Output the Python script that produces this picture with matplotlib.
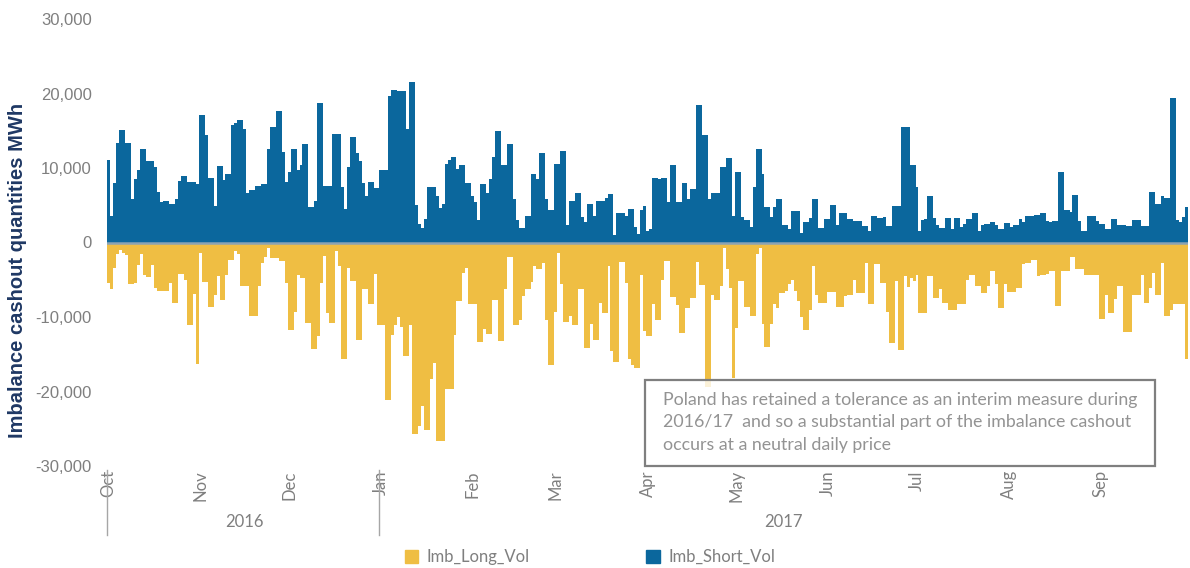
import numpy as np
import pandas as pd
import matplotlib
matplotlib.use('Agg')
import matplotlib.pyplot as plt
import matplotlib.dates as mdates
from matplotlib.patches import Rectangle, Patch
from matplotlib.ticker import FuncFormatter
from matplotlib.transforms import blended_transform_factory

# daily imbalance cashout volumes, thousand MWh (Oct 2016 - Sep 2017)
short_oct = [11.1, 3.5, 8.0, 13.3, 15.1, 15.1, 13.3, 13.3, 5.8, 8.5, 9.7, 12.6, 12.6, 11.0, 11.0, 11.0,
             10.2, 6.8, 5.4, 5.6, 5.6, 5.2, 5.2, 5.9, 8.3, 8.9, 8.9, 8.1, 8.1, 8.1, 7.8]
short_nov = [17.1, 17.1, 14.4, 8.7, 8.7, 4.9, 10.3, 10.3, 8.4, 9.2, 9.2, 15.8, 16.1, 16.5, 16.5, 15.3,
             6.7, 7.0, 7.0, 7.6, 7.6, 7.8, 7.8, 12.6, 15.5, 15.5, 17.7, 17.7, 12.2, 8.1]
short_dec = [9.4, 12.6, 12.6, 9.7, 10.4, 13.2, 13.2, 4.7, 4.7, 5.6, 18.7, 18.7, 7.6, 7.6, 7.6, 14.6,
             14.6, 14.6, 7.5, 4.5, 10.1, 14.1, 14.1, 12.0, 10.9, 8.0, 6.3, 8.1, 8.1, 7.3, 7.3]
short_jan = [9.7, 9.7, 9.7, 19.6, 20.5, 20.5, 20.4, 20.4, 20.4, 15.3, 21.6, 21.6, 5.0, 2.5, 1.9, 3.2,
             7.5, 7.5, 7.5, 6.3, 4.6, 5.2, 10.5, 11.1, 11.5, 11.5, 9.9, 10.4, 10.4, 8.0, 8.0]
short_feb = [6.3, 5.5, 3.0, 7.8, 7.8, 6.6, 8.5, 11.5, 14.9, 14.9, 10.4, 10.4, 13.2, 13.2, 5.9, 3.0,
             1.9, 1.9, 3.6, 3.6, 9.2, 9.2, 8.5, 12.0, 12.0, 5.8, 4.3, 4.3]
short_mar = [10.5, 10.5, 12.3, 12.3, 2.3, 5.6, 5.6, 6.7, 6.7, 3.4, 2.7, 5.2, 5.2, 3.6, 5.6, 5.6,
             5.6, 6.0, 6.5, 6.5, 1.0, 4.0, 4.0, 4.0, 3.6, 4.5, 4.5, 2.1, 1.2, 4.3, 4.9]
short_apr = [1.6, 1.8, 8.7, 8.7, 8.5, 8.7, 8.7, 5.4, 10.4, 10.4, 5.4, 5.4, 8.0, 8.0, 5.9, 7.2,
             7.2, 18.4, 18.4, 14.4, 14.4, 5.9, 6.7, 6.7, 6.7, 10.1, 10.1, 11.3, 11.3, 3.6]
short_may = [9.5, 9.5, 3.4, 3.0, 3.0, 2.1, 7.5, 12.6, 12.6, 9.2, 4.8, 4.8, 3.4, 4.7, 5.8, 5.8,
             2.4, 2.4, 1.8, 4.2, 4.2, 4.2, 1.3, 2.7, 2.7, 3.3, 5.8, 5.8, 1.9, 1.9, 3.2]
short_jun = [3.2, 5.1, 5.1, 2.3, 3.9, 3.9, 3.9, 3.1, 3.1, 2.9, 2.9, 2.9, 2.2, 2.2, 1.5, 3.6,
             3.6, 3.3, 3.3, 3.4, 2.2, 2.2, 4.9, 4.9, 4.9, 15.5, 15.5, 15.5, 10.4, 10.4]
short_jul = [7.5, 1.6, 3.0, 3.1, 6.3, 6.3, 3.3, 2.3, 1.9, 1.9, 3.3, 3.3, 1.8, 3.3, 3.3, 2.1,
             2.5, 3.2, 3.2, 3.9, 3.9, 1.6, 2.4, 2.5, 2.5, 2.7, 2.7, 2.3, 1.8, 1.8, 2.6]
short_aug = [2.6, 2.1, 2.3, 2.3, 3.1, 2.7, 3.6, 3.6, 3.6, 3.7, 3.7, 3.9, 3.9, 2.9, 2.7, 2.9,
             2.9, 9.5, 9.5, 4.4, 4.4, 4.1, 6.4, 6.4, 2.9, 1.5, 1.5, 3.5, 3.5, 3.5, 2.9]
short_sep = [2.5, 2.5, 1.8, 1.8, 3.2, 3.2, 2.3, 2.3, 2.3, 2.2, 2.2, 3.0, 3.0, 3.0, 2.2, 2.2,
             2.2, 6.8, 6.8, 5.2, 5.2, 6.3, 6.0, 6.0, 19.4, 19.4, 3.0, 2.7, 3.4, 4.7]

long_oct = [-5.5, -6.3, -3.4, -1.6, -1.0, -1.4, -1.7, -5.6, -5.6, -5.4, -3.0, -1.6, -4.3, -4.6, -4.6, -3.0,
            -6.1, -6.5, -6.5, -6.5, -6.5, -5.5, -8.1, -8.1, -4.2, -4.2, -5.0, -11.1, -11.1, -6.9, -16.3]
long_nov = [-1.4, -5.3, -5.3, -8.6, -8.6, -7.0, -4.5, -7.7, -7.7, -4.4, -2.3, -2.3, -1.1, -1.6, -5.8, -5.8,
            -5.8, -9.9, -9.9, -9.9, -5.8, -2.8, -1.9, -0.8, -2.1, -2.1, -2.1, -2.5, -2.5, -5.5]
long_dec = [-11.7, -11.7, -9.3, -4.3, -4.8, -4.8, -10.8, -10.8, -14.3, -14.3, -12.5, -5.5, -1.8, -9.5, -10.8, -10.8,
            -1.1, -3.1, -15.6, -15.6, -3.4, -5.2, -5.2, -13.1, -13.1, -6.3, -6.3, -8.2, -8.2, -4.2, -11.1]
long_jan = [-11.1, -11.1, -21.2, -21.2, -12.4, -11.1, -10.0, -11.3, -15.2, -15.2, -11.1, -25.7, -25.7, -24.6, -22.0, -25.2,
            -25.2, -18.3, -16.2, -26.6, -26.6, -26.6, -19.6, -19.6, -19.6, -12.4, -7.9, -7.9, -4.1, -3.4, -8.2]
long_feb = [-8.2, -8.2, -13.4, -13.4, -11.6, -12.3, -12.3, -7.7, -7.7, -13.2, -13.2, -6.3, -2.0, -2.0, -11.1, -11.1,
            -10.4, -7.2, -6.3, -6.3, -5.3, -3.2, -3.5, -3.5, -2.8, -10.4, -16.5, -16.5]
long_mar = [-9.3, -1.4, -5.6, -10.7, -10.7, -9.8, -11.1, -11.1, -6.2, -6.2, -14.1, -14.1, -11.0, -13.1, -13.1, -8.1,
            -9.5, -9.5, -3.2, -14.6, -16.0, -16.0, -2.6, -2.6, -5.5, -15.7, -16.5, -16.9, -16.9, -4.3, -11.9]
long_apr = [-12.6, -12.6, -8.2, -10.4, -10.4, -5.0, -2.5, -2.5, -7.3, -7.3, -8.4, -12.2, -12.2, -8.8, -8.8, -7.5,
            -7.5, -2.6, -5.7, -5.7, -19.4, -19.4, -7.0, -7.7, -7.7, -5.9, -0.7, -3.6, -6.1, -18.2]
long_may = [-11.5, -5.2, -5.2, -8.6, -8.6, -9.9, -9.9, -1.6, -0.8, -10.9, -14.0, -14.0, -10.9, -8.3, -8.8, -6.8,
            -6.8, -6.5, -5.6, -5.0, -6.5, -7.9, -10.0, -11.8, -11.8, -9.0, -3.2, -7.0, -8.1, -8.1, -8.1]
long_jun = [-6.6, -6.6, -6.6, -8.6, -8.6, -8.6, -7.2, -7.0, -7.0, -5.0, -6.8, -6.8, -6.8, -2.7, -8.3, -8.3,
            -2.9, -2.9, -5.4, -5.4, -9.3, -13.5, -13.5, -5.2, -14.4, -14.4, -4.5, -6.0, -4.7, -5.2]
long_jul = [-4.3, -9.5, -9.5, -9.5, -4.5, -4.5, -7.5, -7.5, -6.3, -8.1, -8.1, -9.0, -9.0, -9.0, -8.3, -8.3,
            -8.3, -5.1, -4.3, -4.3, -5.8, -5.8, -6.8, -6.8, -5.9, -3.8, -3.8, -5.6, -8.8, -8.8, -5.6]
long_aug = [-6.6, -6.6, -6.6, -6.1, -6.1, -2.9, -2.8, -2.8, -2.3, -2.3, -4.5, -4.3, -4.3, -4.2, -3.8, -3.8,
            -8.5, -8.5, -3.8, -3.8, -3.8, -2.0, -2.0, -3.5, -3.5, -3.5, -4.4, -4.4, -4.4, -4.3, -4.3]
long_sep = [-10.3, -10.3, -7.0, -9.5, -9.5, -7.6, -5.9, -5.9, -12.0, -12.0, -12.0, -7.0, -7.0, -7.0, -4.3, -8.1,
            -8.1, -6.1, -4.1, -7.0, -7.0, -2.7, -9.9, -9.9, -9.1, -8.3, -8.3, -8.3, -8.3, -15.6]

note = ("Poland has retained a tolerance as an interim measure during\n"
        "2016/17  and so a substantial part of the imbalance cashout\n"
        "occurs at a neutral daily price")

days = pd.date_range('2016-10-01', '2017-09-30', freq='D')
short_vol = np.concatenate([short_oct, short_nov, short_dec, short_jan, short_feb, short_mar,
                            short_apr, short_may, short_jun, short_jul, short_aug, short_sep]) * 1000
long_vol = np.concatenate([long_oct, long_nov, long_dec, long_jan, long_feb, long_mar,
                           long_apr, long_may, long_jun, long_jul, long_aug, long_sep]) * 1000

blue = '#0b679d'
yellow = '#efbe43'
grey = '#7f7f7f'

W, H = 1190, 568
fig = plt.figure(figsize=(W / 100, H / 100), dpi=100)
ax = fig.add_axes([107 / W, 1 - 466 / H, (1188 - 107) / W, 447 / H])

ax.bar(days, short_vol, width=1.0, color=blue, linewidth=0)
ax.bar(days, long_vol, width=1.0, color=yellow, linewidth=0)
ax.axhline(0, color='#8aa3b3', lw=1.8)

ax.set_ylim(-30000, 30000)
ax.set_yticks(range(-30000, 30001, 10000))
ax.yaxis.set_major_formatter(FuncFormatter(lambda v, p: f'{v:,.0f}'))
half = pd.Timedelta(hours=12)
ax.set_xlim(days[0] - half, days[-1] + half)
ax.xaxis.set_major_locator(mdates.MonthLocator())
ax.xaxis.set_major_formatter(mdates.DateFormatter('%b'))
for s in ax.spines.values():
    s.set_visible(False)
ax.tick_params(axis='x', length=0, pad=3, labelcolor=grey, labelsize=12)
ax.tick_params(axis='y', length=0, pad=11, labelcolor=grey, labelsize=12)
for lab in ax.get_xticklabels():
    lab.set_rotation(90)
    lab.set_fontfamily('Lato')
for lab in ax.get_yticklabels():
    lab.set_fontfamily('Liberation Sans')

fig.text(18 / W, 1 - 270 / H, 'Imbalance cashout quantities MWh', rotation=90,
         ha='center', va='center', fontsize=14.5, fontweight='bold', color='#1f3864',
         family='Liberation Sans')

# year grouping under the month labels
trans = blended_transform_factory(ax.transData, ax.transAxes)
jan = pd.Timestamp('2017-01-01')
for d in [days[0], jan]:
    ax.plot([d - half, d - half], [-0.008, -0.155], transform=trans, clip_on=False,
            color='#a6a6a6', lw=1)
ax.text(days[0] + (jan - days[0]) / 2, -0.125, '2016', transform=trans, ha='center',
        va='center', color=grey, fontsize=12, family='Lato')
ax.text(jan + (days[-1] - jan) / 2, -0.125, '2017', transform=trans, ha='center',
        va='center', color=grey, fontsize=12, family='Lato')

handles = [Patch(color=yellow, label='Imb_Long_Vol'), Patch(color=blue, label='Imb_Short_Vol')]
fig.legend(handles=handles, loc='center', bbox_to_anchor=(590 / W, 1 - 557 / H), ncol=2,
           frameon=False, handlelength=0.8, handleheight=0.8, handletextpad=0.5,
           columnspacing=7, prop={'family': 'Lato', 'size': 12}, labelcolor=grey)

# annotation box
fig.add_artist(Rectangle((645 / W, 1 - 466 / H), 510 / W, 86 / H, transform=fig.transFigure,
                         facecolor=(1, 1, 1, 0.8), edgecolor=grey, lw=1.6, zorder=5))
fig.text(663 / W, 1 - 392 / H, note, ha='left', va='top', fontsize=12.8, color='#939393',
         family='Lato', linespacing=1.5, zorder=6)

fig.savefig('out.png', dpi=100)
